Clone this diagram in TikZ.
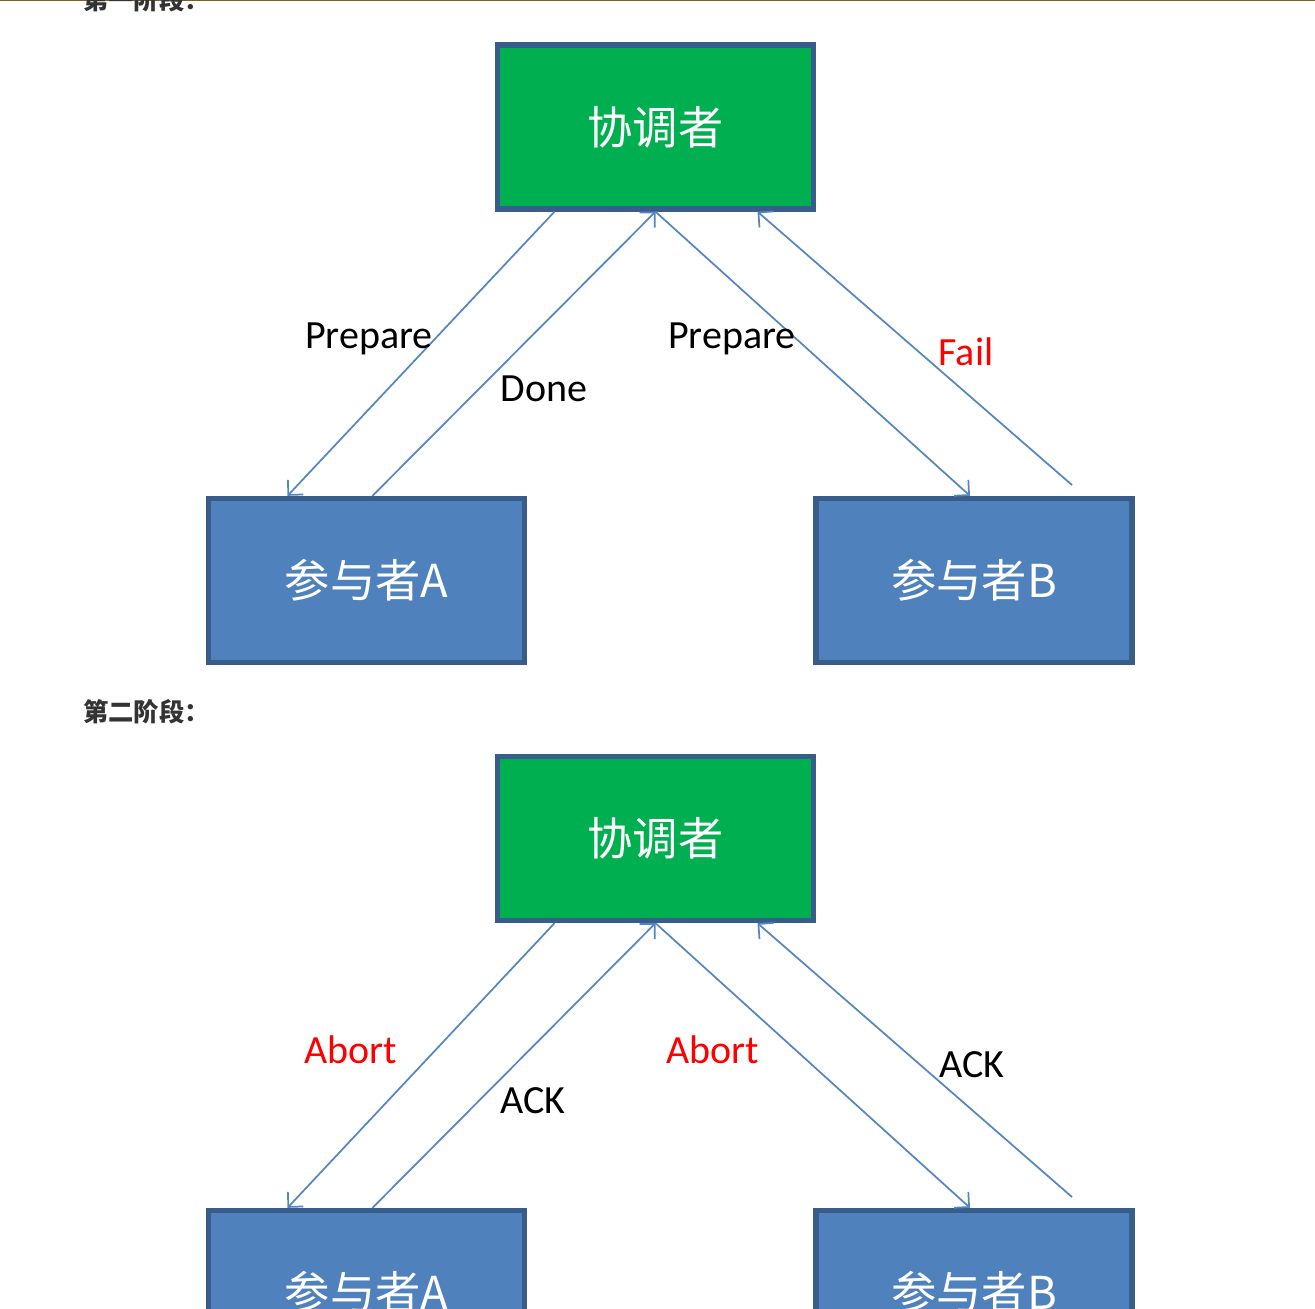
\documentclass[tikz,border=0pt]{standalone}
\usepackage{fontspec}
\setmainfont{Carlito}
\newfontfamily\cjk{Noto Sans CJK SC}
\usetikzlibrary{arrows.meta,calc}
\definecolor{coordgreen}{RGB}{0,176,80}
\definecolor{partblue}{RGB}{79,129,189}
\definecolor{boxedge}{RGB}{56,93,138}
\definecolor{msgline}{RGB}{84,134,194}
\definecolor{headgray}{RGB}{51,51,51}
\definecolor{rulebrown}{RGB}{127,96,30}
\begin{document}
\begin{tikzpicture}[x=0.75pt, y=-0.75pt,
    box/.style={draw=boxedge, line width=4pt, minimum width=237pt, minimum height=123pt,
        inner sep=0pt, text=white, font=\cjk\fontsize{34}{40}\selectfont},
    coord/.style={box, fill=coordgreen},
    part/.style={box, fill=partblue},
    msg/.style={draw=msgline, line width=1.3pt, -{Straight Barb[length=8pt,width=16pt]}},
    lbl/.style={anchor=base, font=\fontsize{30}{36}\selectfont},
    phase/.style={anchor=west, inner sep=0pt, text=headgray, font=\cjk\bfseries\fontsize{19}{22}\selectfont}]
    \useasboundingbox (0,0) rectangle (1315,1309);
    \clip (0,0) rectangle (1315,1309);
    \fill[white] (0,0) rectangle (1315,1309);
    \draw[rulebrown, line width=2pt] (0,0) -- (1315,0);

    \node[phase] (ph1) at (83,0) {第一阶段：};
    \node[coord] (c1) at (655.5,127) {协调者};
    \node[part] (a1) at (366.5,580.5) {参与者A};
    \node[part] (b1) at (974,580.5) {参与者B};
    \coordinate (f1) at (1072,485);
    \draw[msg] ($(c1.south)+(-101,0)$) -- ($(a1.north)+(-79,0)$);
    \draw[msg] ($(a1.north)+(6,0)$) -- (c1.south);
    \draw[msg] (c1.south) -- ($(b1.north)+(-4,0)$);
    \draw[msg] (f1) -- ($(c1.south)+(102,0)$);
    \node[lbl] (p1) at (369,349) {Prepare};
    \node[lbl] (d1) at (544,401) {Done};
    \node[lbl] (p2) at (732,349) {Prepare};
    \node[lbl, red] (x1) at (966,365) {Fail};

    \node[phase] (ph2) at (83,712) {第二阶段：};
    \node[coord] (c2) at (655.5,838.5) {协调者};
    \node[part] (a2) at (366.5,1292.5) {参与者A};
    \node[part] (b2) at (974,1292.5) {参与者B};
    \coordinate (f2) at (1072,1197);
    \draw[msg] ($(c2.south)+(-101,0)$) -- ($(a2.north)+(-79,0)$);
    \draw[msg] ($(a2.north)+(6,0)$) -- (c2.south);
    \draw[msg] (c2.south) -- ($(b2.north)+(-4,0)$);
    \draw[msg] (f2) -- ($(c2.south)+(102,0)$);
    \node[lbl, red] (r1) at (351,1063) {Abort};
    \node[lbl] (k1) at (533,1113) {ACK};
    \node[lbl, red] (r2) at (713,1063) {Abort};
    \node[lbl] (k2) at (972,1077) {ACK};
\end{tikzpicture}
\end{document}
